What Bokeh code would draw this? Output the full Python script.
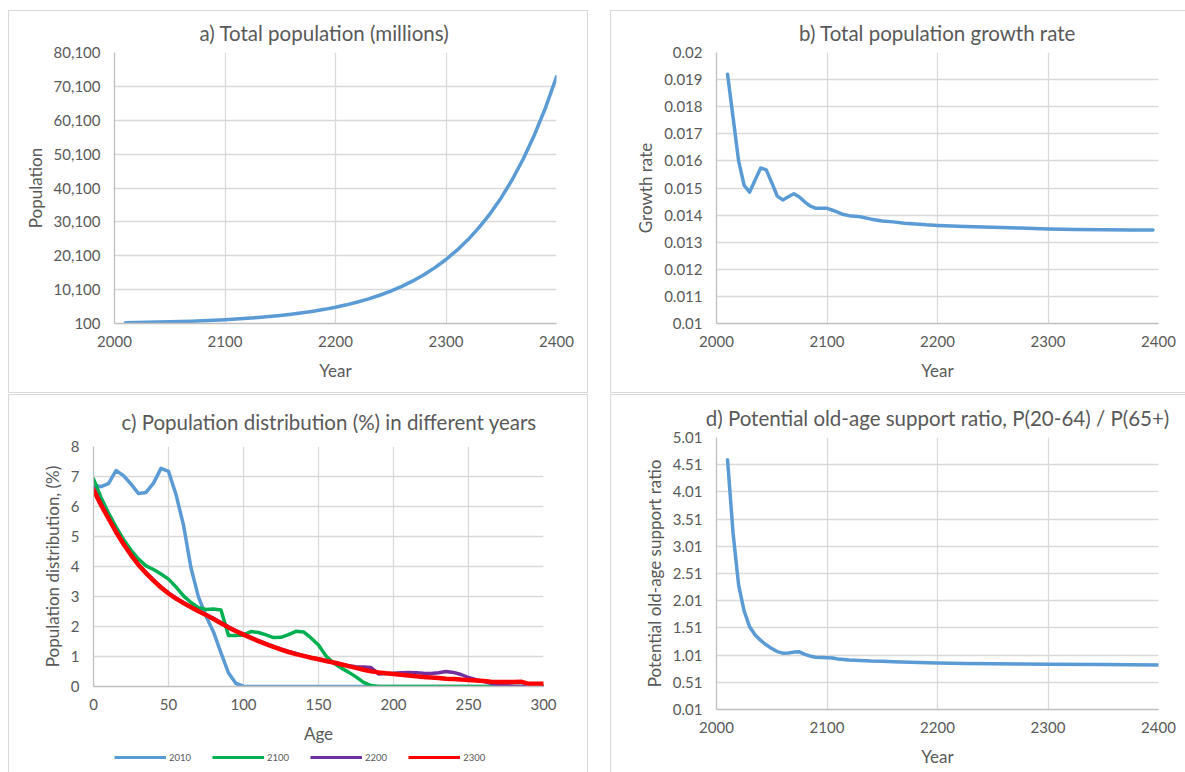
from bokeh.plotting import figure
from bokeh.layouts import column, row
from bokeh.models import (Range1d, FixedTicker, NumeralTickFormatter, CustomJSTickFormatter,
                          Legend, LegendItem, Spacer)
from bokeh.embed import file_html
from bokeh.resources import INLINE

# ---------------- data ----------------
# a) total population (millions)
years_a = list(range(2010, 2401, 10))
population = [315, 375, 437, 509, 594, 689, 798, 923, 1065, 1228,
              1414, 1629, 1870, 2150, 2468, 2834, 3250, 3729, 4277, 4900,
              5612, 6432, 7368, 8438, 9660, 11065, 12670, 14504, 16600, 19000,
              21740, 24880, 28470, 32560, 37240, 42600, 48730, 55740, 63760, 72930]

# b) total population growth rate
years_b = [2010, 2015, 2020, 2025, 2030, 2035, 2040, 2045, 2050, 2055, 2060, 2065, 2070,
           2075, 2080, 2085, 2090, 2095, 2100, 2105, 2110, 2115, 2120, 2130, 2140, 2150,
           2160, 2170, 2180, 2190, 2200, 2225, 2250, 2275, 2300, 2325, 2350, 2375, 2395]
growth = [0.0192, 0.0176, 0.0160, 0.0151, 0.01485, 0.0153, 0.01574, 0.01567, 0.0152,
          0.01470, 0.01456, 0.01468, 0.01479, 0.01467, 0.01448, 0.01433, 0.01425, 0.01425,
          0.01425, 0.01418, 0.01410, 0.01402, 0.01398, 0.01394, 0.01385, 0.01378, 0.01375,
          0.01370, 0.01367, 0.01364, 0.01362, 0.01358, 0.01355, 0.01352, 0.01349, 0.01347,
          0.01346, 0.01345, 0.01345]

# c) population distribution (%) by age
ages = list(range(0, 301, 5))
dist_2010 = [6.72, 6.66, 6.76, 7.20, 7.03, 6.75, 6.43, 6.47, 6.78, 7.27, 7.17, 6.40, 5.38,
             3.95, 2.98, 2.35, 1.82, 1.12, 0.45, 0.10, 0.01] + [0.0] * 40
dist_2100 = [6.92, 6.30, 5.78, 5.32, 4.90, 4.55, 4.25, 4.02, 3.90, 3.75, 3.58, 3.32, 3.02,
             2.80, 2.63, 2.57, 2.58, 2.55, 1.70, 1.70, 1.72, 1.83, 1.80, 1.72, 1.63, 1.64,
             1.73, 1.84, 1.82, 1.62, 1.38, 1.02, 0.78, 0.62, 0.48, 0.32, 0.14, 0.03] + [0.0] * 23
dist_2200 = [6.62, 6.10, 5.63, 5.18, 4.78, 4.40, 4.07, 3.80, 3.55, 3.32, 3.12, 2.95, 2.80,
             2.66, 2.53, 2.40, 2.27, 2.13, 1.99, 1.86, 1.75, 1.64, 1.53, 1.43, 1.34, 1.25,
             1.17, 1.10, 1.03, 0.97, 0.92, 0.86, 0.80, 0.74, 0.69, 0.66, 0.65, 0.63, 0.42,
             0.43, 0.44, 0.46, 0.47, 0.46, 0.44, 0.43, 0.46, 0.50, 0.47, 0.40, 0.30, 0.23,
             0.17, 0.11, 0.06, 0.03, 0.01, 0.0, 0.0, 0.0, 0.0]
dist_2300 = [6.55, 6.05, 5.60, 5.15, 4.75, 4.38, 4.05, 3.78, 3.53, 3.30, 3.10, 2.93, 2.78,
             2.64, 2.51, 2.38, 2.25, 2.11, 1.97, 1.84, 1.73, 1.62, 1.51, 1.41, 1.32, 1.23,
             1.15, 1.08, 1.02, 0.96, 0.91, 0.85, 0.80, 0.74, 0.68, 0.62, 0.56, 0.51, 0.47,
             0.44, 0.42, 0.39, 0.37, 0.34, 0.32, 0.30, 0.28, 0.26, 0.25, 0.23, 0.22, 0.20,
             0.18, 0.16, 0.15, 0.15, 0.15, 0.16, 0.09, 0.09, 0.09]
dist_labels = ["2010", "2100", "2200", "2300"]

# d) potential old-age support ratio
years_d = [2010, 2015, 2020, 2025, 2030, 2035, 2040, 2045, 2050, 2055, 2060, 2065, 2070,
           2075, 2080, 2085, 2090, 2095, 2100, 2105, 2110, 2115, 2120, 2125, 2130, 2140,
           2150, 2160, 2175, 2200, 2225, 2250, 2275, 2300, 2350, 2400]
support_ratio = [4.60, 3.25, 2.30, 1.82, 1.53, 1.38, 1.28, 1.20, 1.13, 1.075, 1.045, 1.05,
                 1.065, 1.07, 1.025, 0.99, 0.97, 0.965, 0.962, 0.955, 0.94, 0.93, 0.92,
                 0.915, 0.91, 0.90, 0.895, 0.89, 0.88, 0.865, 0.857, 0.85, 0.845, 0.84,
                 0.835, 0.83]

# tick values
year_ticks = [2000, 2100, 2200, 2300, 2400]
pop_ticks = [100, 10100, 20100, 30100, 40100, 50100, 60100, 70100, 80100]
growth_ticks = [0.010, 0.011, 0.012, 0.013, 0.014, 0.015, 0.016, 0.017, 0.018, 0.019, 0.020]
age_ticks = [0, 50, 100, 150, 200, 250, 300]
dist_ticks = [0, 1, 2, 3, 4, 5, 6, 7, 8]
ratio_ticks = [0.01, 0.51, 1.01, 1.51, 2.01, 2.51, 3.01, 3.51, 4.01, 4.51, 5.01]

# ---------------- style ----------------
FONT = "Lato"
TXT = "#595959"
GRID = "#D9D9D9"
AXIS = "#BFBFBF"
BOX = "#D9D9D9"
BLUE = "#5B9BD5"
GREEN = "#00B050"
PURPLE = "#7030A0"
RED = "#FF0000"
OUTLINE = {"outline": f"1px solid {BOX}"}


def make_panel(title, w, h, xr, yr, xticks, yticks, borders, xlabel, ylabel, tstandoff,
               boxed=True, title_offset=None):
    left, right, top, bottom = borders
    p = figure(width=w, height=h, x_range=Range1d(*xr), y_range=Range1d(*yr),
               output_backend="svg", toolbar_location=None, title=title,
               min_border_left=left, min_border_right=right,
               min_border_top=top, min_border_bottom=bottom)
    if boxed:
        p.styles = OUTLINE
    p.outline_line_color = None
    p.background_fill_color = "white"
    p.border_fill_color = "white"
    p.title.text_font = FONT
    p.title.text_font_size = "20.5px"
    p.title.text_font_style = "normal"
    p.title.text_color = TXT
    if title_offset is None:
        p.title.align = "center"
    else:
        p.title.align = "left"
        p.title.offset = title_offset
    p.title.standoff = tstandoff
    xt = FixedTicker(ticks=xticks)
    yt = FixedTicker(ticks=yticks)
    p.xaxis.ticker = xt
    p.yaxis.ticker = yt
    p.xgrid.ticker = xt
    p.ygrid.ticker = yt
    for g in (p.xgrid, p.ygrid):
        g.grid_line_color = GRID
        g.grid_line_width = 1.3
    for ax in (p.xaxis[0], p.yaxis[0]):
        ax.axis_line_color = AXIS
        ax.axis_line_width = 1.3
        ax.major_tick_line_color = None
        ax.minor_tick_line_color = None
        ax.major_tick_in = 0
        ax.major_tick_out = 0
        ax.major_label_text_font = FONT
        ax.major_label_text_font_size = "15px"
        ax.major_label_text_color = TXT
        ax.axis_label_text_font = FONT
        ax.axis_label_text_font_size = "17px"
        ax.axis_label_text_font_style = "normal"
        ax.axis_label_text_color = TXT
    p.xaxis.major_label_standoff = 12
    p.xaxis.axis_label_standoff = 10
    p.yaxis.major_label_standoff = 14
    p.yaxis.axis_label_standoff = 5
    p.xaxis.axis_label = xlabel
    p.yaxis.axis_label = ylabel
    return p


# a)
pa = make_panel("a) Total population (millions)", 578, 381, (2000, 2400), (100, 80100),
                year_ticks, pop_ticks, (105, 31, 41, 69), "Year", "Population", 15,
                title_offset=85)
pa.yaxis.formatter = NumeralTickFormatter(format="0,0")
pa.line(years_a, population, line_width=3.5, color=BLUE, line_join="round", line_cap="round")

# b)
pb = make_panel("b) Total population growth rate", 574, 381, (2000, 2400), (0.01, 0.02),
                year_ticks, growth_ticks, (105, 27, 41, 69), "Year", "Growth rate", 15)
pb.yaxis.formatter = CustomJSTickFormatter(code="return String(parseFloat(tick.toFixed(3)))")
pb.line(years_b, growth, line_width=3.5, color=BLUE, line_join="round", line_cap="round")

# c)
pc = make_panel("c) Population distribution (%) in different years", 578, 351, (0, 300), (0, 8),
                age_ticks, dist_ticks, (84, 44, 51, 60), "Age", "Population distribution, (%)", 25,
                boxed=False, title_offset=28)
series = [(dist_2010, BLUE, 3.5), (dist_2100, GREEN, 3.5), (dist_2200, PURPLE, 3.5),
          (dist_2300, RED, 4.5)]
for vals, col, lw in series:
    pc.line(ages, vals, line_width=lw, color=col, line_join="round", line_cap="round")

# legend strip under panel c (its own small canvas so the legend is not clipped)
pleg = figure(width=578, height=26, x_range=Range1d(-20, -10), y_range=Range1d(-20, -10),
              output_backend="svg", toolbar_location=None, min_border=0,
              x_axis_location=None, y_axis_location=None)
pleg.outline_line_color = None
pleg.xgrid.visible = False
pleg.ygrid.visible = False
pleg.border_fill_color = "white"
items = []
for lab, (vals, col, lw) in zip(dist_labels, series):
    r = pleg.line(ages, vals, line_width=3, color=col)
    items.append(LegendItem(label=lab, renderers=[r]))
legend = Legend(items=items, orientation="horizontal", location=(21, 5),
                label_text_font=FONT, label_text_font_size="9.5px", label_text_color=TXT,
                glyph_width=52, glyph_height=20, label_height=20, label_standoff=3,
                spacing=21, padding=0, margin=0, border_line_color=None,
                background_fill_alpha=0)
pleg.add_layout(legend)
cbox = column(pc, pleg, styles=OUTLINE)

# d)
pd_ = make_panel("d) Potential old-age support ratio, P(20-64) / P(65+)", 574, 377,
                 (2000, 2400), (0.01, 5.01), year_ticks, ratio_ticks, (105, 27, 42, 63),
                 "Year", "Potential old-age support ratio", 16)
pd_.yaxis.formatter = NumeralTickFormatter(format="0.00")
pd_.line(years_d, support_ratio, line_width=3.5, color=BLUE, line_join="round", line_cap="round")

top_row = row(Spacer(width=9, height=381), pa, Spacer(width=24, height=381), pb)
bottom_row = row(Spacer(width=9, height=377), cbox, Spacer(width=24, height=377), pd_)
layout = column(Spacer(width=1185, height=11), top_row, Spacer(width=1185, height=3), bottom_row)

open("out.html", "w").write(file_html(layout, INLINE))
